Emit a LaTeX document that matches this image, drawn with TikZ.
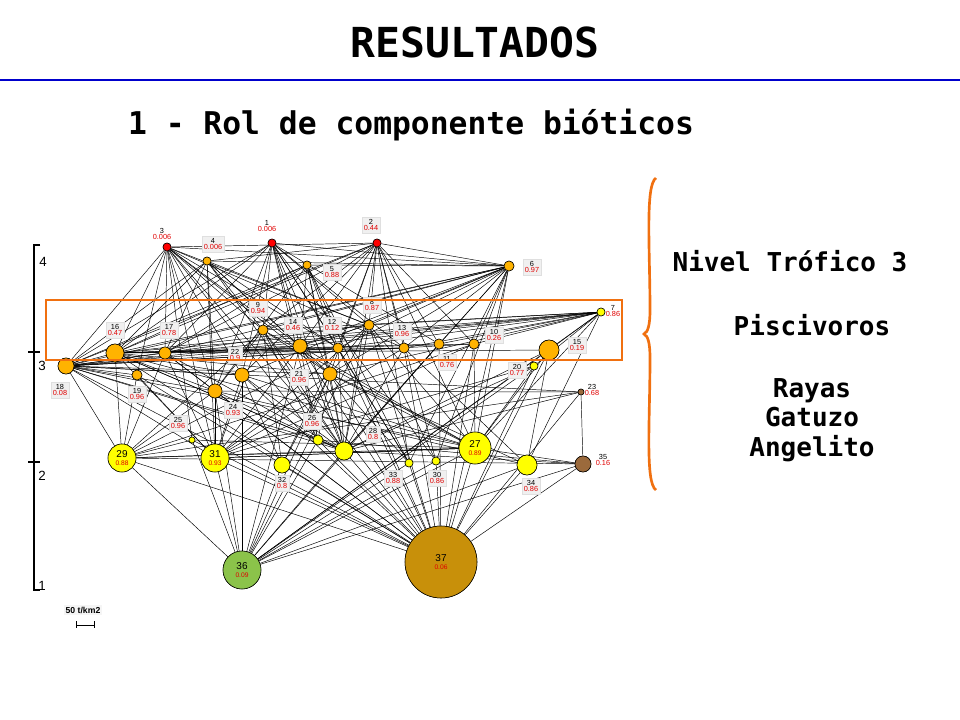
\documentclass[tikz,border=0pt]{standalone}
\usepackage{fontspec}
\setmainfont{Liberation Sans}
\newfontfamily\monob{DejaVu Sans Mono}
\definecolor{orng}{HTML}{FFB300}
\definecolor{yel}{HTML}{FFFF00}
\definecolor{brn}{HTML}{9B6A3C}
\definecolor{grn}{HTML}{8BC34A}
\definecolor{gold}{HTML}{C8900A}
\definecolor{boxo}{HTML}{F07010}
\definecolor{valred}{HTML}{E00000}
\begin{document}
\begin{tikzpicture}[x=0.75pt,y=-0.75pt,
  sp/.style={circle,draw=black,line width=0.4pt,inner sep=0pt,minimum size=#1*1.5pt},
  lab/.style={fill=gray!12,draw=gray!25,font=\fontsize{5.5}{6}\selectfont,align=center,inner sep=1.5pt},
  nlab/.style={font=\fontsize{5.5}{6}\selectfont,align=center,inner sep=1pt},
  inl/.style={font=\fontsize{7.5}{7.5}\selectfont,align=center,inner sep=0pt},
  edge/.style={line width=0.35pt}]
\useasboundingbox (0,0) rectangle (960,720);
% title
\node[font=\monob\bfseries\fontsize{31}{32}\selectfont] (title) at (475,42) {RESULTADOS};
\draw[blue!80!black,line width=1.6pt] (0,80) -- (960,80);
\node[font=\monob\bfseries\fontsize{23.5}{24}\selectfont] (sub) at (411,125) {1 - Rol de componente bióticos};
% nodes
\node[sp=4,fill=red] (n3) at (167,247) {};
\node[sp=4,fill=red] (n1) at (272,243) {};
\node[sp=4,fill=red] (n2) at (377,243) {};
\node[sp=4,fill=orng] (n4) at (207,261) {};
\node[sp=4,fill=orng] (n5) at (307,265) {};
\node[sp=5,fill=orng] (n6) at (509,266) {};
\node[sp=4,fill=yel] (n7) at (601,312) {};
\node[sp=5,fill=orng] (n9) at (263,330) {};
\node[sp=7,fill=orng] (n14) at (300,346) {};
\node[sp=5,fill=orng] (n12) at (338,348) {};
\node[sp=5,fill=orng] (n8) at (369,325) {};
\node[sp=5,fill=orng] (n13) at (404,348) {};
\node[sp=5,fill=orng] (n11) at (439,344) {};
\node[sp=5,fill=orng] (n10) at (474,344) {};
\node[sp=10,fill=orng] (n15) at (549,350) {};
\node[sp=9,fill=orng] (n16) at (115,353) {};
\node[sp=6,fill=orng] (n17) at (165,353) {};
\node[sp=8,fill=orng] (n18) at (66,366) {};
\node[sp=5,fill=orng] (n19) at (137,375) {};
\node[sp=7,fill=orng] (n22) at (242,375) {};
\node[sp=7,fill=orng] (n21) at (330,374) {};
\node[sp=4,fill=yel] (n20) at (534,366) {};
\node[sp=3,fill=brn] (n23) at (581,392) {};
\node[sp=7,fill=orng] (n24) at (215,391) {};
\node[sp=3,fill=yel] (n25) at (192,440) {};
\node[sp=5,fill=yel] (n26) at (318,440) {};
\node[sp=9,fill=yel] (n28) at (344,451) {};
\node[sp=16,fill=yel] (n27) at (475,448) {};
\node[sp=14,fill=yel] (n29) at (122,458) {};
\node[sp=14,fill=yel] (n31) at (215,458) {};
\node[sp=8,fill=yel] (n32) at (282,465) {};
\node[sp=4,fill=yel] (n33) at (409,463) {};
\node[sp=4,fill=yel] (n30) at (436,461) {};
\node[sp=10,fill=yel] (n34) at (527,465) {};
\node[sp=8,fill=brn] (n35) at (583,464) {};
\node[sp=19,fill=grn] (n36) at (242,570) {};
\node[sp=36,fill=gold] (n37) at (441,562) {};
% edges
\foreach \a/\b in {3/16,3/17,3/18,3/19,3/22,3/24,3/9,3/14,3/21,3/8,3/13,3/12,3/26,3/28,3/31,3/25,3/6,3/2,
 1/18,1/16,1/9,1/14,1/12,1/8,1/13,1/11,1/21,1/28,1/26,1/22,1/24,1/33,1/30,1/6,1/17,
 2/18,2/16,2/17,2/9,2/14,2/12,2/8,2/13,2/11,2/10,2/21,2/28,2/27,2/33,2/30,2/6,2/4,2/22,
 4/18,4/16,4/9,4/14,4/31,4/12,4/8,4/21,4/28,4/24,4/6,4/17,
 5/18,5/16,5/17,5/14,5/12,5/24,5/21,5/28,5/33,5/37,5/6,
 6/16,6/18,6/14,6/12,6/8,6/13,6/11,6/10,6/27,6/30,6/33,6/28,6/37,6/21,6/17,6/9,6/22,
 7/16,7/17,7/14,7/12,7/8,7/13,7/11,7/10,7/15,7/18,7/20,7/34,7/36,7/27,7/21,7/9,
 9/29,9/31,9/28,9/27,9/37,9/24,9/26,9/32,9/21,
 14/16,14/18,14/28,14/37,14/36,14/27,14/31,14/26,
 12/18,12/16,12/28,12/37,12/29,12/32,12/33,
 8/18,8/16,8/14,8/21,8/28,8/27,8/37,8/31,8/36,8/30,
 13/16,13/18,13/28,13/37,13/34,13/31,
 11/37,11/28,11/36,11/16,10/37,10/27,10/18,10/31,10/29,
 15/27,15/37,15/34,15/36,15/28,
 16/18,16/29,16/31,16/24,16/21,16/27,16/28,16/37,16/26,16/22,16/15,16/10,
 17/18,17/29,17/31,17/24,17/37,17/28,17/13,
 18/22,18/21,18/24,18/28,18/27,18/31,18/29,18/37,18/26,18/23,18/19,
 19/29,19/31,19/37,22/28,22/37,22/31,22/32,22/27,22/36,
 21/28,21/37,21/36,21/27,21/31,21/32,21/34,21/26,21/33,
 20/27,20/28,20/37,20/36,20/31,23/35,23/37,23/28,23/29,23/24,
 24/31,24/28,24/37,24/36,24/29,24/34,
 25/29,25/36,25/37,25/27,26/37,26/36,26/28,26/35,
 28/37,28/36,28/29,28/35,27/37,27/36,27/29,27/31,27/35,
 29/36,29/37,29/35,31/36,31/37,31/27,32/37,32/36,33/37,33/36,30/37,30/36,34/37,34/36,35/37,35/36}
  \draw[edge] (n\a) -- (n\b);
% redraw nodes on top
\foreach \n/\r/\c in {3/4/red,1/4/red,2/4/red,4/4/orng,5/4/orng,6/5/orng,7/4/yel,9/5/orng,14/7/orng,12/5/orng,8/5/orng,13/5/orng,11/5/orng,10/5/orng,15/10/orng,16/9/orng,17/6/orng,18/8/orng,19/5/orng,22/7/orng,21/7/orng,20/4/yel,23/3/brn,24/7/orng,25/3/yel,26/5/yel,28/9/yel,27/16/yel,29/14/yel,31/14/yel,32/8/yel,33/4/yel,30/4/yel,34/10/yel,35/8/brn,36/19/grn,37/36/gold}
  \fill[\c,draw=black,line width=0.4pt] (n\n.center) circle[radius=\r];
\node[inl] (i27) at (n27) {27\\[-1pt]{\color{valred}\fontsize{5}{5}\selectfont 0.89}};
\node[inl] (i29) at (n29) {29\\[-1pt]{\color{valred}\fontsize{5}{5}\selectfont 0.88}};
\node[inl] (i31) at (n31) {31\\[-1pt]{\color{valred}\fontsize{5}{5}\selectfont 0.93}};
\node[inl] (i36) at (n36) {36\\[-1pt]{\color{valred}\fontsize{5}{5}\selectfont 0.09}};
\node[inl] (i37) at (n37) {37\\[-1pt]{\color{valred}\fontsize{5}{5}\selectfont 0.06}};
% labels
\newcommand\lv[2]{#1\\[-1pt]\textcolor{valred}{#2}}
\node[nlab] (l3) at (162,234) {\lv{3}{0.006}};
\node[nlab] (l1) at (267,226) {\lv{1}{0.006}};
\node[lab] (l2) at (371,225) {\lv{2}{0.44}};
\node[lab] (l4) at (213,244) {\lv{4}{0.006}};
\node[lab] (l5) at (332,272) {\lv{5}{0.88}};
\node[lab] (l6) at (532,267) {\lv{6}{0.97}};
\node[nlab] (l7) at (613,311) {\lv{7}{0.86}};
\node[lab] (l9) at (258,308) {\lv{9}{0.94}};
\node[lab] (l8) at (372,305) {\lv{8}{0.87}};
\node[lab] (l14) at (293,325) {\lv{14}{0.46}};
\node[lab] (l12) at (332,325) {\lv{12}{0.12}};
\node[lab] (l13) at (402,331) {\lv{13}{0.96}};
\node[lab] (l10) at (494,335) {\lv{10}{0.26}};
\node[lab] (l11) at (447,362) {\lv{11}{0.76}};
\node[lab] (l15) at (577,345) {\lv{15}{0.19}};
\node[lab] (l16) at (115,330) {\lv{16}{0.47}};
\node[lab] (l17) at (169,330) {\lv{17}{0.78}};
\node[lab] (l18) at (60,390) {\lv{18}{0.08}};
\node[lab] (l19) at (137,394) {\lv{19}{0.96}};
\node[lab] (l22) at (235,355) {\lv{22}{0.9}};
\node[lab] (l21) at (299,377) {\lv{21}{0.96}};
\node[lab] (l20) at (517,370) {\lv{20}{0.77}};
\node[nlab] (l23) at (592,390) {\lv{23}{0.68}};
\node[lab] (l24) at (233,410) {\lv{24}{0.93}};
\node[lab] (l25) at (178,423) {\lv{25}{0.96}};
\node[lab] (l26) at (312,421) {\lv{26}{0.96}};
\node[lab] (l28) at (373,434) {\lv{28}{0.8}};
\node[lab] (l32) at (282,483) {\lv{32}{0.8}};
\node[lab] (l33) at (393,478) {\lv{33}{0.88}};
\node[lab] (l30) at (437,478) {\lv{30}{0.86}};
\node[lab] (l34) at (531,486) {\lv{34}{0.86}};
\node[nlab] (l35) at (603,460) {\lv{35}{0.16}};
% axis
\draw[line width=0.8pt] (40,245) -- (34,245) -- (34,590) -- (40,590);
\draw[line width=0.8pt] (28,352) -- (40,352) (28,462) -- (40,462);
\node[font=\fontsize{10}{10}\selectfont] (a4) at (43,262) {4};
\node[font=\fontsize{10}{10}\selectfont] (a3) at (42,366) {3};
\node[font=\fontsize{10}{10}\selectfont] (a2) at (42,476) {2};
\node[font=\fontsize{10}{10}\selectfont] (a1) at (42,586) {1};
% legend
\node[fill=gray!8,font=\bfseries\fontsize{6.5}{6.5}\selectfont,inner sep=1.5pt] (leg) at (83,610) {50 t/km2};
\draw[line width=0.7pt] (76,621) -- (76,628) (76,625) -- (94,625) (94,621) -- (94,628);
% highlight box
\draw[boxo,line width=2.2pt] (46,300) rectangle (622,360);
% brace
\draw[boxo,line width=2pt] (656,178) .. controls (645,185) and (650,250) .. (650,310) .. controls (650,325) and (648,332) .. (644,334) .. controls (648,336) and (650,343) .. (650,358) .. controls (650,420) and (645,483) .. (656,490);
\node[font=\monob\bfseries\fontsize{19.5}{20}\selectfont] (t1) at (790,261) {Nivel Trófico 3};
\node[font=\monob\bfseries\fontsize{19.5}{20}\selectfont] (t2) at (812,325) {Piscivoros};
\node[font=\monob\bfseries\fontsize{19.5}{20}\selectfont,align=center] (t3) at (812,420) {Rayas\\[2pt]Gatuzo\\[2pt]Angelito};
\end{tikzpicture}
\end{document}
